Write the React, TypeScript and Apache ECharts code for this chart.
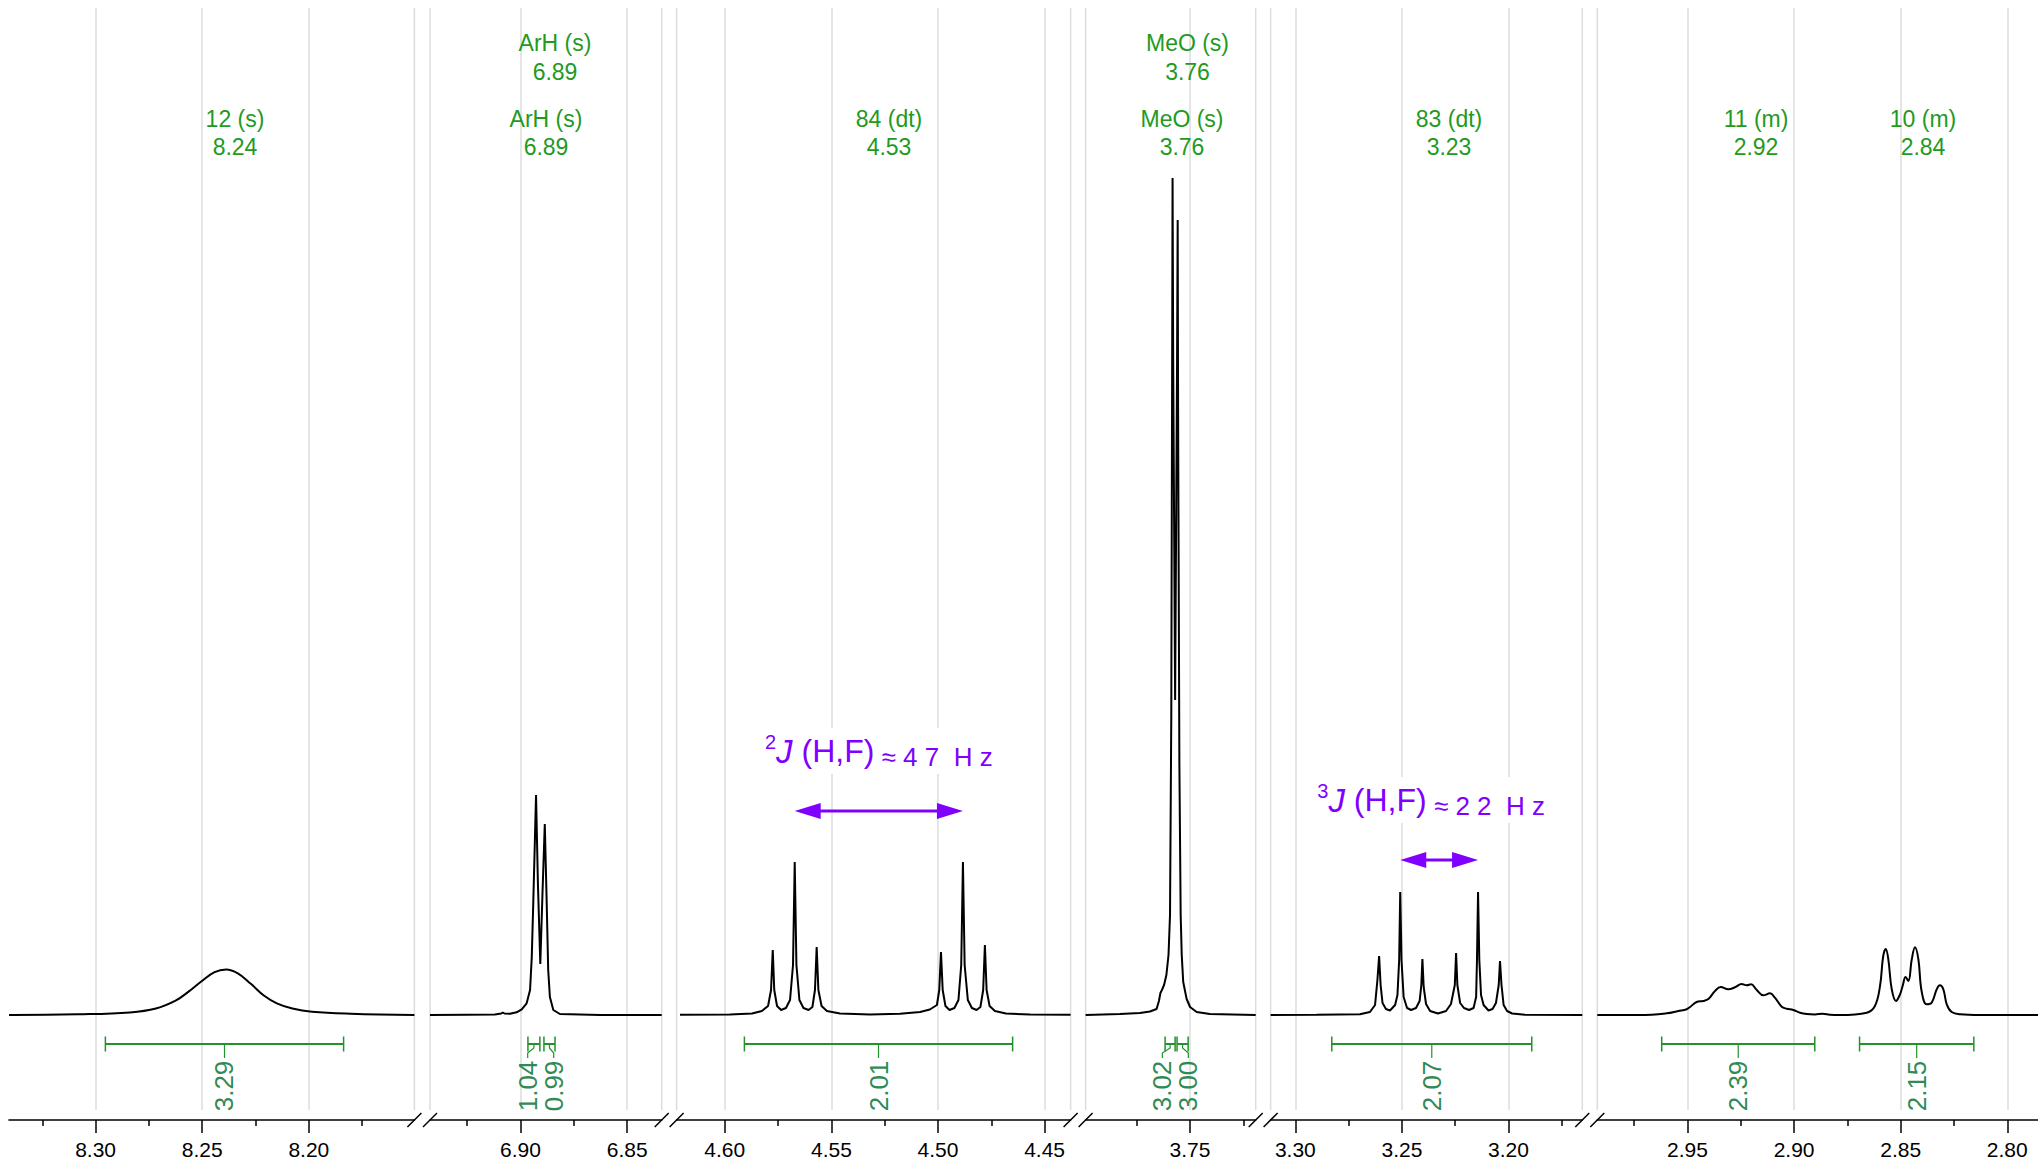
import React, { useEffect, useRef } from "react";
import * as echarts from "echarts";

// ---------------- DATA ----------------
// ppm range shown in each of the six axis segments (left edge = high ppm)
const segPpmMax = [8.3406, 6.9424, 4.6226, 3.799, 3.3116, 2.9923];
const segPpmMin = [8.1505, 6.8338, 4.4378, 3.7192, 3.1654, 2.7856];
const majorTicks = [
  [8.3, 8.25, 8.2],
  [6.9, 6.85],
  [4.6, 4.55, 4.5, 4.45],
  [3.75],
  [3.3, 3.25, 3.2],
  [2.95, 2.9, 2.85, 2.8],
];
const minorTicks = [
  [8.325, 8.275, 8.225, 8.175],
  [6.925, 6.875],
  [4.575, 4.525, 4.475],
  [3.775, 3.725],
  [3.275, 3.225, 3.175],
  [2.975, 2.925, 2.875, 2.825],
];

// spectrum traces [ppm, intensity]
const spectrum1 = [
  [8.3406, 0], [8.3387, 0], [8.3083, 0.7], [8.2839, 2.6], [8.2717, 6.5], [8.2625, 14.3],
  [8.2564, 23.4], [8.2503, 33.8], [8.2442, 42.9], [8.2388, 45.5], [8.2333, 41.6],
  [8.2272, 31.2], [8.2211, 19.5], [8.215, 11.7], [8.2077, 6.5], [8.1985, 3.3],
  [8.1803, 1.3], [8.1505, 0],
];
const spectrum2 = [
  [6.9424, 0], [6.925, 0.3], [6.912, 0.5], [6.909, 1.5], [6.9083, 2.5], [6.9075, 1.5],
  [6.9049, 1.2], [6.9018, 2.7], [6.8994, 5.7], [6.8971, 11.7], [6.8955, 25], [6.8947, 58],
  [6.894, 112], [6.8932, 178], [6.8927, 220], [6.8918, 130], [6.8907, 51], [6.8897, 120],
  [6.8886, 191], [6.8877, 112], [6.887, 45], [6.8862, 18], [6.8846, 5], [6.8815, 1],
  [6.8627, 0], [6.8338, 0],
];
const spectrum3 = [
  [4.621, 0.2], [4.5976, 0.5], [4.5872, 1.5], [4.5826, 4], [4.5797, 9], [4.5783, 25],
  [4.5775, 65], [4.5768, 25], [4.5755, 9], [4.5736, 5], [4.5713, 7], [4.5694, 15],
  [4.568, 50], [4.5672, 153], [4.5664, 50], [4.565, 15], [4.5631, 7], [4.5607, 5],
  [4.5589, 8], [4.5577, 25], [4.5569, 68], [4.5561, 25], [4.5546, 9], [4.5521, 4],
  [4.546, 1.5], [4.5319, 0.6], [4.5178, 1.2], [4.5084, 3], [4.5038, 5.5], [4.5005, 10],
  [4.4994, 25], [4.4986, 63], [4.4978, 25], [4.4965, 9], [4.4946, 5], [4.4923, 7],
  [4.4904, 15], [4.4891, 50], [4.4883, 153], [4.4875, 50], [4.486, 15], [4.4841, 7],
  [4.4819, 5], [4.4801, 8], [4.4788, 25], [4.478, 70], [4.4772, 25], [4.4758, 9],
  [4.4733, 4], [4.4681, 1.5], [4.4568, 0.5], [4.4378, 0.2],
];
const spectrum4 = [
  [3.799, 0], [3.7829, 1], [3.7735, 2], [3.7688, 3.5], [3.7657, 6], [3.7646, 14],
  [3.7639, 22], [3.7632, 25], [3.7622, 30], [3.7611, 40], [3.7601, 60], [3.7594, 100],
  [3.7588, 300], [3.7584, 650], [3.7582, 837], [3.7579, 650], [3.757, 315], [3.7561, 650],
  [3.7558, 795], [3.7556, 600], [3.755, 250], [3.7544, 100], [3.7539, 60], [3.7532, 33],
  [3.7516, 16], [3.75, 8], [3.7469, 3], [3.7407, 1], [3.7192, 0],
];
const spectrum5 = [
  [3.3116, 0], [3.29, 0.3], [3.2697, 0.7], [3.265, 3], [3.2626, 10], [3.2615, 35],
  [3.2607, 59], [3.26, 30], [3.2591, 12], [3.2575, 6], [3.2556, 4.5], [3.2532, 10],
  [3.2521, 20], [3.2513, 55], [3.2508, 123], [3.2502, 55], [3.2492, 18], [3.2476, 7],
  [3.2457, 5], [3.2434, 7], [3.2417, 14], [3.2409, 30], [3.2404, 56], [3.2398, 28],
  [3.2387, 11], [3.2368, 4], [3.2331, 1.5], [3.2293, 4], [3.227, 11], [3.2252, 30],
  [3.2246, 62], [3.224, 30], [3.2227, 12], [3.2209, 7], [3.2185, 5], [3.2164, 7],
  [3.2152, 18], [3.2148, 55], [3.2143, 123], [3.2137, 55], [3.2129, 20], [3.2117, 10],
  [3.2094, 4.5], [3.2075, 6], [3.2059, 12], [3.2046, 30], [3.204, 54], [3.2033, 30],
  [3.2023, 10], [3.2007, 4], [3.1983, 1.5], [3.1923, 0.3], [3.1654, 0],
];
const spectrum6 = [
  [2.9923, 0], [2.9723, 0], [2.9598, 1.7], [2.9543, 4], [2.9504, 5.7], [2.9488, 8],
  [2.9457, 13], [2.9426, 14], [2.9402, 16], [2.9371, 24], [2.9344, 28], [2.9309, 25.7],
  [2.9277, 27.7], [2.9246, 31], [2.9222, 29.7], [2.9202, 30.7], [2.9175, 25], [2.9144, 19.7],
  [2.9113, 21.7], [2.909, 17.3], [2.9058, 8.3], [2.9035, 6.3], [2.9004, 5], [2.8972, 2.3],
  [2.8941, 1], [2.8902, 0.6], [2.8866, 1.2], [2.8832, 0.3], [2.8785, 0], [2.8659, 2.3],
  [2.8621, 9], [2.8597, 29], [2.8582, 59], [2.857, 66], [2.8558, 55.7], [2.8542, 25.7],
  [2.8522, 14], [2.8503, 20.7], [2.8491, 29], [2.8477, 38], [2.8464, 34], [2.8448, 55.7],
  [2.8433, 67.7], [2.8417, 55.7], [2.8402, 24], [2.8378, 10.7], [2.8355, 12.3],
  [2.8331, 25.7], [2.8316, 29.7], [2.83, 25.7], [2.8284, 10.7], [2.8261, 3], [2.8222, 0.7],
  [2.8128, 0], [2.7856, 0],
];
const spectra = [spectrum1, spectrum2, spectrum3, spectrum4, spectrum5, spectrum6];

// integrals
const integralSegment = [0, 1, 1, 2, 3, 3, 4, 5, 5];
const integralStart = [8.2954, 6.8965, 6.889, 4.5908, 3.7617, 3.7561, 3.2829, 2.9621, 2.8693];
const integralEnd = [8.1837, 6.8909, 6.8838, 4.465, 3.757, 3.7509, 3.1891, 2.8903, 2.8157];
const integralValues = ["3.29", "1.04", "0.99", "2.01", "3.02", "3.00", "2.07", "2.39", "2.15"];

// multiplet labels
const peakNames = ["12 (s)", "ArH (s)", "ArH (s)", "84 (dt)", "MeO (s)", "MeO (s)", "83 (dt)", "11 (m)", "10 (m)"];
const peakShifts = ["8.24", "6.89", "6.89", "4.53", "3.76", "3.76", "3.23", "2.92", "2.84"];

// coupling annotations
const couplingSegment = [2, 4];
const couplingFrom = [4.5672, 3.2508];
const couplingTo = [4.4883, 3.2143];
const couplingLevel = [204, 155];
const couplingOrder = ["2", "3"];
const couplingHz = ["4 7", "2 2"];

// ---------------- LAYOUT ----------------
const W = 2038;
const H = 1164;
const SEG_LEFT = [9, 430, 676.6, 1085.6, 1270.6, 1597.3];
const SEG_WIDTH = [405.4, 231.7, 394, 170.1, 311.7, 440.7];
const SMOOTH = [0.4, false, false, false, false, 0.4];
const GRID_TOP = 8;
const GRID_BOTTOM = 1110;
const Y_MIN = -95;
const Y_MAX = 1007;
const FONT = "'Liberation Sans', Arial, Helvetica, sans-serif";
const LABEL_X = [235, 555, 546, 889, 1187.5, 1182, 1449, 1756, 1923];
const LABEL_ROW = [1, 0, 1, 1, 0, 1, 1, 1, 1];
const ROW_Y = [[43, 72], [119, 147]];
const GREEN = "#22922a";
const GREEN_TXT = "#2e8b57";
const VIOLET = "#8000ff";

export default function App() {
  const ref = useRef<HTMLDivElement>(null);
  useEffect(() => {
    const chart = echarts.init(ref.current as HTMLDivElement, null, { renderer: "svg" });
    const grids: any[] = [];
    const mainAxes: any[] = [];
    const minorAxes: any[] = [];
    const yAxes: any[] = [];
    const series: any[] = [];
    for (let i = 0; i < 6; i++) {
      grids.push({
        left: SEG_LEFT[i], width: SEG_WIDTH[i], top: GRID_TOP, height: GRID_BOTTOM - GRID_TOP,
        containLabel: false, outerBoundsMode: "none",
      });
      mainAxes.push({
        type: "value", gridIndex: i, inverse: true, min: segPpmMin[i], max: segPpmMax[i],
        position: "bottom", offset: 10,
        axisLine: { show: true, onZero: false, lineStyle: { color: "#000", width: 1.6 } },
        axisTick: { show: true, length: 13, customValues: majorTicks[i], lineStyle: { color: "#000", width: 1.5 } },
        axisLabel: {
          show: true, customValues: majorTicks[i], formatter: (v: number) => v.toFixed(2),
          fontSize: 21, color: "#000", margin: 19, fontFamily: FONT,
        },
        splitLine: { show: true, lineStyle: { color: "#dcdcdc", width: 1.5 } },
      });
      minorAxes.push({
        type: "value", gridIndex: i, inverse: true, min: segPpmMin[i], max: segPpmMax[i],
        position: "bottom", offset: 10,
        axisLine: { show: false, onZero: false },
        axisTick: { show: true, length: 6, customValues: minorTicks[i], lineStyle: { color: "#000", width: 1.5 } },
        axisLabel: { show: false },
        splitLine: { show: false },
      });
      yAxes.push({ type: "value", gridIndex: i, min: Y_MIN, max: Y_MAX, show: false });
      series.push({
        type: "line", xAxisIndex: i, yAxisIndex: i, data: spectra[i], symbol: "none", showSymbol: false,
        smooth: SMOOTH[i], lineStyle: { color: "#000", width: 2 }, silent: true, z: 3, clip: true,
      });
    }
    chart.setOption({
      animation: false,
      backgroundColor: "#fff",
      grid: grids,
      xAxis: [...mainAxes, ...minorAxes],
      yAxis: yAxes,
      series,
    });

    const toPx = (seg: number, ppm: number, v = 0) =>
      chart.convertToPixel({ xAxisIndex: seg, yAxisIndex: seg } as any, [ppm, v]) as number[];

    const g: any[] = [];
    // segment edges and axis breaks
    for (let i = 0; i < 6; i++) {
      const xl = toPx(i, segPpmMax[i])[0];
      const xr = toPx(i, segPpmMin[i])[0];
      const edges: number[] = [];
      if (i > 0) edges.push(xl);
      if (i < 5) edges.push(xr);
      edges.forEach((x) => {
        g.push({ type: "line", silent: true, z: 0, shape: { x1: x, y1: GRID_TOP, x2: x, y2: GRID_BOTTOM }, style: { stroke: "#dcdcdc", lineWidth: 1.5 } });
        g.push({ type: "line", silent: true, z: 10, shape: { x1: x - 7, y1: 1127, x2: x + 7, y2: 1113 }, style: { stroke: "#000", lineWidth: 1.5 } });
      });
    }

    // integrals
    const centers = integralStart.map((s, k) => {
      const a = toPx(integralSegment[k], s)[0];
      const b = toPx(integralSegment[k], integralEnd[k])[0];
      return (a + b) / 2;
    });
    const labelX = centers.slice();
    for (let k = 0; k < centers.length - 1; k++) {
      if (integralSegment[k] === integralSegment[k + 1] && centers[k + 1] - centers[k] < 26) {
        const m = (centers[k] + centers[k + 1]) / 2;
        labelX[k] = m - 14;
        labelX[k + 1] = m + 12;
      }
    }
    integralStart.forEach((s, k) => {
      const seg = integralSegment[k];
      const x1 = toPx(seg, s)[0];
      const x2 = toPx(seg, integralEnd[k])[0];
      const c = centers[k];
      const lx = labelX[k];
      const yL = 1044;
      g.push({ type: "line", silent: true, z: 5, shape: { x1, y1: yL, x2, y2: yL }, style: { stroke: GREEN, lineWidth: 2 } });
      g.push({ type: "line", silent: true, z: 5, shape: { x1, y1: yL - 7.5, x2: x1, y2: yL + 7.5 }, style: { stroke: GREEN, lineWidth: 1.5 } });
      g.push({ type: "line", silent: true, z: 5, shape: { x1: x2, y1: yL - 7.5, x2, y2: yL + 7.5 }, style: { stroke: GREEN, lineWidth: 1.5 } });
      const pts = Math.abs(lx - c) < 0.5
        ? [[c, yL], [c, 1058]]
        : [[c, yL], [c, 1048], [lx, 1053], [lx, 1058]];
      g.push({ type: "polyline", silent: true, z: 5, shape: { points: pts }, style: { stroke: GREEN, lineWidth: 1.2, fill: null } });
      g.push({
        type: "text", silent: true, z: 5, x: lx, y: 1086, rotation: Math.PI / 2,
        style: { text: integralValues[k], fontSize: 26, fontFamily: FONT, fill: GREEN_TXT, align: "center", verticalAlign: "middle" },
      });
    });

    // multiplet labels
    peakNames.forEach((name, k) => {
      const [y1, y2] = ROW_Y[LABEL_ROW[k]];
      g.push({ type: "text", silent: true, z: 5, x: LABEL_X[k], y: y1, style: { text: name, fontSize: 23, fontFamily: FONT, fill: "#229a22", align: "center", verticalAlign: "middle" } });
      g.push({ type: "text", silent: true, z: 5, x: LABEL_X[k], y: y2, style: { text: peakShifts[k], fontSize: 23, fontFamily: FONT, fill: "#229a22", align: "center", verticalAlign: "middle" } });
    });

    // coupling arrows
    couplingSegment.forEach((seg, k) => {
      const [xa, y] = toPx(seg, couplingFrom[k], couplingLevel[k]);
      const [xb] = toPx(seg, couplingTo[k], couplingLevel[k]);
      const hl = 26;
      const hw = 8;
      g.push({ type: "line", silent: true, z: 6, shape: { x1: xa + hl - 2, y1: y, x2: xb - hl + 2, y2: y }, style: { stroke: VIOLET, lineWidth: 3 } });
      g.push({ type: "polygon", silent: true, z: 6, shape: { points: [[xa, y], [xa + hl, y - hw], [xa + hl, y + hw]] }, style: { fill: VIOLET } });
      g.push({ type: "polygon", silent: true, z: 6, shape: { points: [[xb, y], [xb - hl, y - hw], [xb - hl, y + hw]] }, style: { fill: VIOLET } });
      g.push({
        type: "text", silent: true, z: 6, x: (xa + xb) / 2 - (k === 1 ? 8 : 0), y: y - 60,
        style: {
          text: `{sup|${couplingOrder[k]}}{it|J}{big| (H,F)}{small| ≈ ${couplingHz[k]}  H z}`,
          align: "center", verticalAlign: "middle", fill: VIOLET, fontFamily: FONT, fontSize: 32,
          backgroundColor: "#fff", padding: [4, 4, 4, 4],
          rich: {
            sup: { fontSize: 20, fontFamily: FONT, fill: VIOLET, verticalAlign: "top", lineHeight: 22 },
            it: { fontSize: 33, fontStyle: "italic", fontFamily: FONT, fill: VIOLET, lineHeight: 38 },
            big: { fontSize: 32, fontFamily: FONT, fill: VIOLET, lineHeight: 38 },
            small: { fontSize: 26, fontFamily: FONT, fill: VIOLET, lineHeight: 33, verticalAlign: "bottom" },
          },
        },
      });
    });

    chart.setOption({ graphic: { elements: g } });
    return () => chart.dispose();
  }, []);
  return <div ref={ref} style={{ position: "absolute", left: 0, top: 0, width: W, height: H }} />;
}
